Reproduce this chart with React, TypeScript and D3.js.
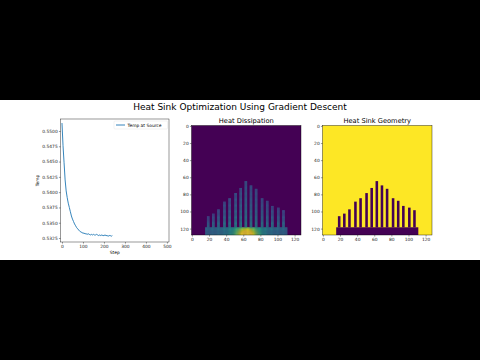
import * as d3 from "d3";
import { useEffect, useRef } from "react";

const title = "Heat Sink Optimization Using Gradient Descent";

// temperature at source, sampled every 5 optimisation steps
const steps = [0, 5, 10, 15, 20, 25, 30, 35, 40, 45, 50, 55, 60, 65, 70, 75, 80, 85, 90, 95, 100, 105, 110, 115, 120,
    125, 130, 135, 140, 145, 150, 155, 160, 165, 170, 175, 180, 185, 190, 195, 200, 205, 210, 215, 220, 225, 230, 235, 240];
const temps = [0.5513, 0.5476, 0.5448, 0.5420, 0.5402, 0.5391, 0.5382, 0.5375, 0.5368, 0.5361, 0.5356, 0.5352, 0.5348,
    0.5345, 0.5342, 0.5340, 0.5338, 0.5336, 0.5335, 0.5334, 0.5333, 0.5333, 0.5332, 0.5332, 0.5331, 0.5332, 0.5331,
    0.5330, 0.5331, 0.5330, 0.5331, 0.5330, 0.5330, 0.5331, 0.5330, 0.5329, 0.5330, 0.5329, 0.5330, 0.5329, 0.5329,
    0.5330, 0.5329, 0.5329, 0.5328, 0.5329, 0.5329, 0.5328, 0.5329];
const xTicks = [0, 100, 200, 300, 400, 500];
const yTicks = [0.5325, 0.5350, 0.5375, 0.5400, 0.5425, 0.5450, 0.5475, 0.5500];
const gridTicks = [0, 20, 40, 60, 80, 100, 120];

// heat sink geometry on a 128 x 128 grid
const gridSize = 128;
const baseCols = [16, 111];
const baseRows = [119, 127];
const finStart = [18, 24, 30, 37, 43, 50, 56, 62, 68, 74, 81, 87, 93, 100, 106];
const finTop = [106, 103, 98, 89, 85, 79, 73, 65, 70, 74, 85, 88, 94, 96, 99];
const finWidth = 3;
const sourceCol = 64;

export default function App() {
    const ref = useRef<SVGSVGElement>(null);
    const width = 480, height = 360;

    useEffect(() => {
        const svg = d3.select(ref.current);
        svg.selectAll("*").remove();
        const font = "DejaVu Sans";

        svg.append("rect").attr("width", width).attr("height", height).attr("fill", "#000");
        svg.append("rect").attr("y", 100).attr("width", width).attr("height", 160).attr("fill", "#fff");

        svg.append("text")
            .attr("x", 240).attr("y", 109.5)
            .attr("text-anchor", "middle")
            .style("font-family", font).style("font-size", "9px")
            .text(title);

        const styleAxis = (g: any) => {
            g.attr("font-size", 4.4).attr("font-family", font);
            g.select(".domain").remove();
            g.selectAll(".tick line").attr("stroke", "#000").attr("stroke-width", 0.4);
            g.selectAll(".tick text").attr("fill", "#222");
        };

        // ---- left: temperature history
        const lp = { x: 60.5, y: 119, w: 108.5, h: 123 };
        const g1 = svg.append("g").attr("transform", `translate(${lp.x},${lp.y})`);
        const x1 = d3.scaleLinear().domain([-7, 510]).range([0, lp.w]);
        const y1 = d3.scaleLinear().domain([0.53185, 0.55196]).range([lp.h, 0]);

        g1.append("path")
            .datum(steps.map((s, i) => [s, temps[i]] as [number, number]))
            .attr("d", d3.line().x(d => x1(d[0])).y(d => y1(d[1])))
            .attr("fill", "none")
            .attr("stroke", "#1f77b4")
            .attr("stroke-width", 0.9);

        g1.append("g").attr("transform", `translate(0,${lp.h})`)
            .call(d3.axisBottom(x1).tickValues(xTicks).tickSize(1.6).tickPadding(1.2))
            .call(styleAxis);
        g1.append("g")
            .call(d3.axisLeft(y1).tickValues(yTicks).tickFormat(d3.format(".4f")).tickSize(1.6).tickPadding(1.2))
            .call(styleAxis);
        g1.append("rect").attr("width", lp.w).attr("height", lp.h)
            .attr("fill", "none").attr("stroke", "#000").attr("stroke-width", 0.4);

        g1.append("text").attr("x", lp.w / 2).attr("y", lp.h + 11.5).attr("text-anchor", "middle")
            .style("font-family", font).style("font-size", "4.4px").text("Step");
        g1.append("text").attr("transform", `translate(-21.5,${lp.h / 2}) rotate(-90)`).attr("text-anchor", "middle")
            .style("font-family", font).style("font-size", "4.4px").text("Temp");

        const leg = g1.append("g").attr("transform", `translate(${lp.w - 55},2)`);
        leg.append("rect").attr("width", 53.5).attr("height", 8).attr("rx", 1)
            .attr("fill", "#fff").attr("stroke", "#ddd").attr("stroke-width", 0.4);
        leg.append("line").attr("x1", 2).attr("x2", 11).attr("y1", 4).attr("y2", 4)
            .attr("stroke", "#1f77b4").attr("stroke-width", 0.9);
        leg.append("text").attr("x", 13.5).attr("y", 5.6)
            .style("font-family", font).style("font-size", "4.4px").text("Temp at Source");

        // ---- heat field from geometry
        const heat = (r: number, c: number, fin: number) => {
            const edge = 1 - Math.abs(c - sourceCol) / 48;
            if (fin < 0) {
                const g = Math.exp(-((c - sourceCol) ** 2) / (2 * 10 * 10) - ((baseRows[1] - r) ** 2) / (2 * 7 * 7));
                return Math.min(1, 0.38 + 0.12 * edge + 0.62 * g);
            }
            const h = (baseRows[0] - r) / (baseRows[0] - finTop[fin]);
            return 0.23 + 0.2 * Math.pow(1 - h, 1.5) + 0.08 * edge;
        };

        const cells: { r: number, c: number, v: number }[] = [];
        for (let r = baseRows[0]; r <= baseRows[1]; r++)
            for (let c = baseCols[0]; c <= baseCols[1]; c++) cells.push({ r, c, v: heat(r, c, -1) });
        finStart.forEach((s, i) => {
            for (let r = finTop[i]; r < baseRows[0]; r++)
                for (let c = s; c < s + finWidth; c++) cells.push({ r, c, v: heat(r, c, i) });
        });

        const panel = (px: number, name: string) => {
            const size = 109.5;
            const g = svg.append("g").attr("transform", `translate(${px},125.5)`);
            const sc = d3.scaleLinear().domain([-0.5, gridSize - 0.5]).range([0, size]);
            const cw = sc(1) - sc(0);
            g.append("text").attr("x", size / 2).attr("y", -2.5).attr("text-anchor", "middle")
                .style("font-family", font).style("font-size", "6.7px").text(name);
            return { g, sc, cw, size };
        };

        const drawFrame = (p: any) => {
            p.g.append("g").attr("transform", `translate(0,${p.size})`)
                .call(d3.axisBottom(p.sc).tickValues(gridTicks).tickSize(1.6).tickPadding(1.2))
                .call(styleAxis);
            p.g.append("g")
                .call(d3.axisLeft(p.sc).tickValues(gridTicks).tickSize(1.6).tickPadding(1.2))
                .call(styleAxis);
            p.g.append("rect").attr("width", p.size).attr("height", p.size)
                .attr("fill", "none").attr("stroke", "#000").attr("stroke-width", 0.4);
        };

        const p2 = panel(191.5, "Heat Dissipation");
        p2.g.append("rect").attr("width", p2.size).attr("height", p2.size).attr("fill", d3.interpolateViridis(0));
        p2.g.selectAll("rect.cell").data(cells).join("rect")
            .attr("class", "cell")
            .attr("x", d => p2.sc(d.c - 0.5)).attr("y", d => p2.sc(d.r - 0.5))
            .attr("width", p2.cw + 0.05).attr("height", p2.cw + 0.05)
            .attr("fill", d => d3.interpolateViridis(d.v));
        drawFrame(p2);

        const p3 = panel(322.5, "Heat Sink Geometry");
        p3.g.append("rect").attr("width", p3.size).attr("height", p3.size).attr("fill", d3.interpolateViridis(1));
        const solid = d3.interpolateViridis(0);
        p3.g.append("rect")
            .attr("x", p3.sc(baseCols[0] - 0.5)).attr("y", p3.sc(baseRows[0] - 0.5))
            .attr("width", p3.sc(baseCols[1] + 0.5) - p3.sc(baseCols[0] - 0.5))
            .attr("height", p3.sc(baseRows[1] + 0.5) - p3.sc(baseRows[0] - 0.5))
            .attr("fill", solid);
        p3.g.selectAll("rect.fin").data(finStart).join("rect")
            .attr("class", "fin")
            .attr("x", d => p3.sc(d - 0.5)).attr("y", (d, i) => p3.sc(finTop[i] - 0.5))
            .attr("width", p3.cw * finWidth)
            .attr("height", (d, i) => p3.sc(baseRows[0] - 0.5) - p3.sc(finTop[i] - 0.5) + 0.1)
            .attr("fill", solid);
        drawFrame(p3);
    }, []);

    return (
        <svg ref={ref} width={width} height={height} style={{ position: "absolute", left: 0, top: 0 }}>
        </svg>
    );
}
